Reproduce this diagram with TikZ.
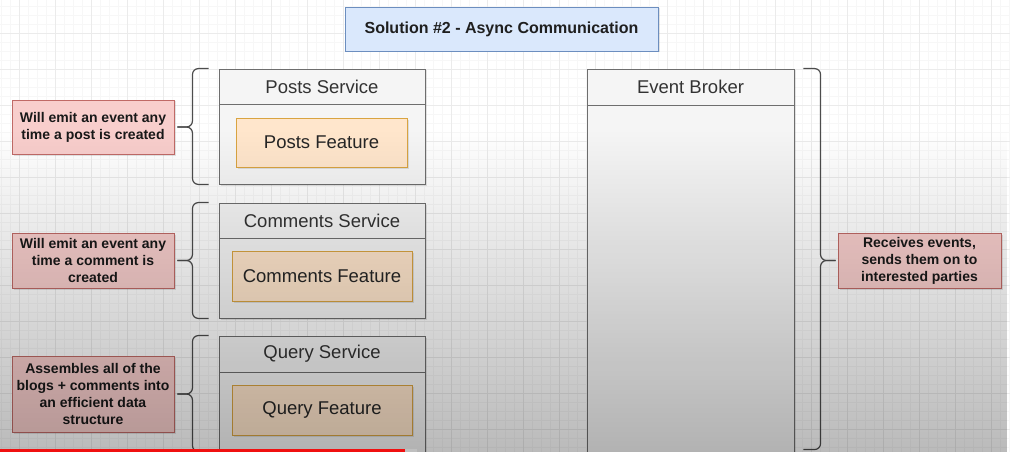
\documentclass[tikz,border=0pt]{standalone}
\usepackage{fontspec}
\setmainfont{Liberation Sans}
\usetikzlibrary{calc,shadows,fadings}
\definecolor{titlefill}{HTML}{DAE8FC}
\definecolor{titledraw}{HTML}{6C8EBF}
\definecolor{notefill}{HTML}{F8CECC}
\definecolor{notedraw}{HTML}{C06A66}
\definecolor{featfill}{HTML}{FFE6CC}
\definecolor{featdraw}{HTML}{D9A441}
\definecolor{contfill}{HTML}{F5F5F5}
\definecolor{contdraw}{HTML}{6E6E6E}
\definecolor{hdrtext}{HTML}{333333}
\definecolor{gridminor}{HTML}{F7F7F7}
\definecolor{gridmajor}{HTML}{EBEBEB}
\definecolor{barred}{HTML}{F01010}
\begin{document}
\begin{tikzpicture}[x=1pt,y=-1pt,
  box/.style={draw, line width=0.9pt, inner sep=0pt, align=center},
  shd/.style={drop shadow={shadow xshift=1.5pt, shadow yshift=-1.5pt, opacity=0.22}},
  titlebox/.style={box, shd, fill=titlefill, draw=titledraw, text=black!88,
    font=\bfseries\fontsize{16}{19}\selectfont},
  notebox/.style={box, shd, fill=notefill, draw=notedraw, text=black!90,
    font=\bfseries\fontsize{14}{17}\selectfont, minimum width=162pt},
  featbox/.style={box, shd, fill=featfill, draw=featdraw, text=black!85,
    font=\fontsize{18.5}{22}\selectfont, minimum height=50pt},
  contbox/.style={box, shd, fill=contfill, draw=contdraw, minimum width=206pt},
  hdrbox/.style={box, fill=contfill, draw=contdraw, text=hdrtext,
    font=\fontsize{18.5}{22}\selectfont, minimum width=206pt},
  brc/.style={draw=black!70, line width=1.2pt, rounded corners=6pt},
  gmin/.style={draw=gridminor, line width=0.6pt},
  gmaj/.style={draw=gridmajor, line width=0.8pt}]
\useasboundingbox (0,0) rectangle (1010,452);
\clip (0,0) rectangle (1010,452);
\fill[white] (0,0) rectangle (1010,452);
% background grid
\foreach \x in {1,10,...,1009} \draw[gmin] (\x,0) -- (\x,452);
\foreach \y in {6,15,...,451} \draw[gmin] (0,\y) -- (1010,\y);
\foreach \x in {19,55,...,1009} \draw[gmaj] (\x,0) -- (\x,452);
\foreach \y in {33,69,...,451} \draw[gmaj] (0,\y) -- (1010,\y);

% title
\node[titlebox, minimum width=313pt, minimum height=44pt] (title) at (501.5,29) {Solution \#2 - Async Communication};

% posts service
\node[contbox, minimum height=115pt] (ps) at (322,126.5) {};
\node[hdrbox, minimum height=35pt] (psh) at (322,86.5) {Posts Service};
\node[featbox, minimum width=171pt, minimum height=49pt] (pf) at (321.5,142.5) {Posts Feature};

% comments service
\node[contbox, minimum height=115pt] (cs) at (322,260.5) {};
\node[hdrbox, minimum height=35pt] (csh) at (322,220.5) {Comments Service};
\node[featbox, minimum width=180pt] (cf) at (322,276) {Comments Feature};

% query service
\node[contbox, minimum height=134pt] (qs) at (322,403) {};
\node[hdrbox, minimum height=36pt] (qsh) at (322,354) {Query Service};
\node[featbox, minimum width=180pt] (qf) at (322,410) {Query Feature};

% event broker
\node[contbox, minimum width=207pt, minimum height=401pt] (eb) at (690.5,269.5) {};
\node[hdrbox, minimum width=207pt, minimum height=36pt] (ebh) at (690.5,87) {Event Broker};

% notes
\node[notebox, minimum height=54pt] (n1) at (93,127) {Will emit an event any\\time a post is created};
\node[notebox, minimum height=55pt] (n2) at (93,260.5) {Will emit an event any\\time a comment is\\created};
\node[notebox, minimum height=76pt] (n3) at (93,394) {Assembles all of the\\blogs + comments into\\an efficient data\\structure};
\node[notebox, minimum width=163pt, minimum height=55pt] (n4) at (919.5,260.5) {Receives events,\\sends them on to\\interested parties};

% braces
\draw[brc] ($(ps.north west)+(-10,0)$) -| ($(n1.east)+(18,0)$) -- ($(n1.east)+(3,0)$);
\draw[brc] ($(ps.south west)+(-10,0)$) -| ($(n1.east)+(18,0)$) -- ($(n1.east)+(3,0)$);
\draw[brc] ($(cs.north west)+(-10,0)$) -| ($(n2.east)+(18,0)$) -- ($(n2.east)+(3,0)$);
\draw[brc] ($(cs.south west)+(-10,0)$) -| ($(n2.east)+(18,0)$) -- ($(n2.east)+(3,0)$);
\coordinate (qbot) at ($(qs.north west)+(-10,116)$);
\draw[brc] ($(qs.north west)+(-10,0)$) -| ($(n3.east)+(18,0)$) -- ($(n3.east)+(3,0)$);
\draw[brc] (qbot) -| ($(n3.east)+(18,0)$) -- ($(n3.east)+(3,0)$);
\coordinate (ebbot) at ($(eb.north east)+(9,381)$);
\draw[brc] ($(eb.north east)+(9,0)$) -| ($(n4.west)+(-17,0)$) -- ($(n4.west)+(-2,0)$);
\draw[brc] (ebbot) -| ($(n4.west)+(-17,0)$) -- ($(n4.west)+(-2,0)$);

% vignette of the screenshot
\fill[black, opacity=0.27, path fading=north] (0,130) rectangle (1010,452);

% progress bar
\fill[barred] (0,448.5) rectangle (405,452);
\fill[black!25] (405,448.5) rectangle (417,452);
\end{tikzpicture}
\end{document}
